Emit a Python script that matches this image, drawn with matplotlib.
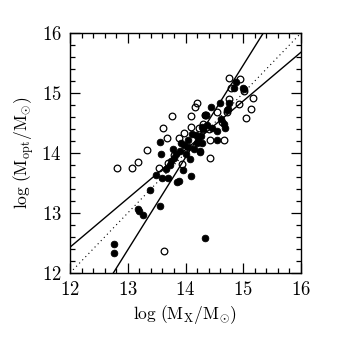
import matplotlib
matplotlib.use("Agg")
import matplotlib.pyplot as plt
import numpy as np
from matplotlib.ticker import MultipleLocator

plt.rcParams['font.family'] = 'serif'
plt.rcParams['font.serif'] = ['cmr10', 'DejaVu Serif']
plt.rcParams['mathtext.fontset'] = 'cm'
plt.rcParams['axes.formatter.use_mathtext'] = True

# open circles
open_x = [12.81, 13.07, 13.18, 13.34, 13.54, 13.61, 13.68, 13.77, 13.69, 13.88,
          13.98, 13.94, 14.10, 14.10, 14.17, 14.20, 13.63, 14.23, 14.30, 14.33,
          14.35, 14.41, 14.43, 14.42, 14.54, 14.67, 14.63, 14.76, 14.79, 14.76,
          14.95, 14.93, 15.01, 15.04, 15.13, 15.17, 13.80, 14.72]
open_y = [13.75, 13.75, 13.85, 14.05, 13.75, 14.41, 14.25, 14.61, 13.84, 14.25,
          14.34, 13.81, 14.62, 14.43, 14.76, 14.83, 12.36, 14.41, 14.49, 14.63,
          14.64, 14.40, 13.91, 14.21, 14.68, 14.22, 14.52, 15.25, 15.09, 14.90,
          15.23, 14.81, 15.04, 14.58, 14.73, 14.92, 13.96, 14.68]

# filled circles
fill_x = [12.77, 12.77, 13.17, 13.20, 13.27, 13.39, 13.49, 13.55, 13.56, 13.58,
          13.60, 13.69, 13.67, 13.73, 13.78, 13.80, 13.83, 13.85, 13.88, 13.90,
          13.93, 13.95, 13.98, 14.01, 14.05, 14.08, 14.09, 14.12, 14.15, 14.20,
          14.25, 14.27, 14.29, 14.33, 14.34, 14.37, 14.28, 14.25, 14.45, 14.46,
          14.54, 14.54, 14.60, 14.62, 14.67, 14.69, 14.71, 14.74, 14.76, 14.84,
          14.88, 15.00, 15.02, 14.18, 14.22, 14.31, 13.75, 14.05]
fill_y = [12.48, 12.34, 13.06, 13.04, 12.97, 13.39, 13.64, 13.12, 14.19, 13.99,
          13.58, 13.58, 13.74, 13.80, 14.06, 13.91, 13.98, 13.52, 13.54, 14.04,
          14.17, 13.71, 14.14, 13.98, 14.21, 13.90, 13.62, 14.32, 14.07, 14.16,
          14.04, 14.29, 14.43, 12.59, 14.63, 14.47, 14.17, 14.02, 14.76, 14.41,
          14.22, 14.36, 14.84, 14.56, 14.49, 14.42, 14.71, 14.73, 14.84, 15.09,
          15.19, 15.09, 15.07, 14.30, 14.22, 14.40, 13.86, 14.10]

# fit lines: intercept at x=12, slope
shallow_a, shallow_b = 12.43, 0.8125
steep_x0, steep_b = 12.75, 1.54

fig = plt.figure(figsize=(3.54, 3.51), dpi=100)
ax = fig.add_axes([70/354, 1-273/351, 231/354, 240/351])

xs = np.array([12.0, 16.0])
ax.plot(xs, shallow_a + shallow_b*(xs-12), color='black', lw=1.0)
ax.plot(xs, 12.0 + steep_b*(xs-steep_x0), color='black', lw=1.0)
ax.plot(xs, xs, color='black', lw=0.8, linestyle=(0, (1, 3)))

ax.plot(fill_x, fill_y, 'o', color='black', ms=4.8, mec='black', mew=0.6, ls='none')
ax.plot(open_x, open_y, 'o', mfc='none', mec='black', ms=4.8, mew=0.9, ls='none')

ax.set_xlim(12, 16)
ax.set_ylim(12, 16)
ax.xaxis.set_major_locator(MultipleLocator(1))
ax.yaxis.set_major_locator(MultipleLocator(1))
ax.xaxis.set_minor_locator(MultipleLocator(0.2))
ax.yaxis.set_minor_locator(MultipleLocator(0.2))
ax.tick_params(which='both', direction='in', top=True, right=True, width=0.9)
ax.tick_params(which='major', length=7, labelsize=13.5, pad=6)
ax.tick_params(which='minor', length=3.5)
for s in ax.spines.values():
    s.set_linewidth(1.0)

ax.set_xlabel(r'$\mathrm{log\ (M_{X}/M_{\odot})}$', fontsize=12.5, labelpad=3)
ax.set_ylabel(r'$\mathrm{log\ (M_{opt}/M_{\odot})}$', fontsize=12.5, labelpad=4)

fig.savefig('out.png', dpi=100)
